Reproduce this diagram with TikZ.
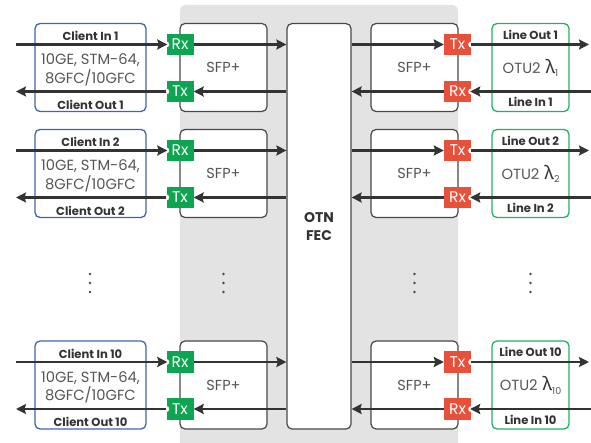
\documentclass[tikz,border=0pt]{standalone}
\usepackage{fontspec}
\setmainfont{Poppins}
\newfontfamily\grk{Noto Sans}
\usetikzlibrary{arrows.meta}
\definecolor{bgC}{HTML}{E3E3E3}
\definecolor{boxC}{HTML}{484848}
\definecolor{lineC}{HTML}{333333}
\definecolor{blueC}{HTML}{3F65AE}
\definecolor{gtagC}{HTML}{0DA552}
\definecolor{gboxC}{HTML}{22B062}
\definecolor{redC}{HTML}{E8503A}
\definecolor{labC}{HTML}{333333}
\definecolor{txtC}{HTML}{555555}
\tikzset{
  cbox/.style={draw=blueC, line width=1.3pt, rounded corners=5pt, minimum width=111pt, minimum height=88pt, inner sep=0pt},
  lbox/.style={draw=gboxC, line width=1.3pt, rounded corners=5pt, minimum width=77pt, minimum height=88pt, inner sep=0pt},
  sfpbox/.style={draw=boxC, line width=1.2pt, rounded corners=5pt, fill=white, minimum width=87pt, minimum height=88pt, inner sep=0pt, font=\fontsize{14.5}{16}\selectfont, text=txtC},
  tagbox/.style={minimum width=27pt, minimum height=21.5pt, inner sep=0pt, text=white, font=\fontsize{15.5}{16}\selectfont},
  gtag/.style={tagbox, fill=gtagC},
  rtag/.style={tagbox, fill=redC},
  lab/.style={font=\fontsize{11.6}{14}\selectfont\bfseries, text=labC, inner sep=0pt, anchor=base},
  txt/.style={font=\fontsize{14.7}{16}\selectfont, text=txtC, inner sep=0pt, anchor=base},
  arr/.style={draw=lineC, line width=2.8pt, -{Stealth[length=10pt, width=10pt, inset=1.5pt]}},
  notch/.style={fill=white}
}
\begin{document}
\begin{tikzpicture}[x=1pt, y=-1pt]
\useasboundingbox (0,0) rectangle (591,443);
% gray background
\fill[bgC, rounded corners=6pt] (180,443) -- (180,5) -- (458,5) -- (458,443);
% OTN FEC
\node[sfpbox, minimum width=64pt, minimum height=405.5pt] (otn) at (319,226.3) {};
\node[lab, font=\fontsize{14}{16}\selectfont\bfseries] (otnA) at (319,222.3) {OTN};
\node[lab, font=\fontsize{14}{16}\selectfont\bfseries] (otnB) at (319,241) {FEC};
\foreach \r/\cy/\n in {a/67.5/1, b/173.5/2, c/385/10} {
  % boxes
  \node[cbox] (cl\r) at (90.5,\cy) {};
  \node[sfpbox] (ls\r) at (223.5,\cy) {SFP+};
  \node[sfpbox] (rs\r) at (414.5,\cy) {SFP+};
  \node[lbox] (ln\r) at (530.5,\cy) {};
  % client texts
  \node[lab] (ci\r) at (90.5,{\cy-26.8}) {Client In \n};
  \node[txt] (ct\r) at (90.5,{\cy-2.5}) {10GE, STM-64,};
  \node[txt] (cu\r) at (90.5,{\cy+15.8}) {8GFC/10GFC};
  \node[lab] (co\r) at (90.5,{\cy+41.8}) {Client Out \n};
  % line texts
  \node[lab] (lo\r) at (530.5,{\cy-28.2}) {Line Out \n};
  \node[txt] (lt\r) at (530.5,{\cy+5.8}) {OTU2\hspace{5pt}{\grk\fontsize{18.5}{20}\selectfont\bfseries\color{labC}λ}\raisebox{-3.5pt}{\fontsize{9.5}{10}\selectfont\n}};
  \node[lab] (li\r) at (530.5,{\cy+39.2}) {Line In \n};
  % tags
  \node[gtag] (rx\r) at (180,{\cy-23}) {Rx};
  \node[gtag] (tx\r) at (180,{\cy+24}) {Tx};
  \node[rtag] (rt\r) at (457.5,{\cy-23}) {Tx};
  \node[rtag] (rr\r) at (457.5,{\cy+24}) {Rx};
  \fill[notch] (rx\r.west) circle (3pt);
  \fill[notch] (tx\r.west) circle (3pt);
  \fill[notch] (rt\r.east) circle (3pt);
  \fill[notch] (rr\r.east) circle (3pt);
  % free ends
  \coordinate (inL\r) at (16,{\cy-23});
  \coordinate (outL\r) at (16,{\cy+24});
  \coordinate (outR\r) at (589,{\cy-23});
  \coordinate (inR\r) at (592,{\cy+24});
  % connectors
  \draw[arr] (inL\r) -- ([xshift=1pt]rx\r.west);
  \draw[arr] (rx\r.east) -- (rx\r.east -| otn.west);
  \draw[arr] (tx\r.east -| otn.west) -- (tx\r.east);
  \draw[arr] (tx\r.west) -- (outL\r);
  \draw[arr] (rt\r.west -| otn.east) -- (rt\r.west);
  \draw[arr] (rt\r.east) -- (outR\r);
  \draw[arr] (inR\r) -- ([xshift=-1pt]rr\r.east);
  \draw[arr] (rr\r.west) -- (rr\r.west -| otn.east);
}
% vertical ellipses
\foreach \x in {90,223.5,414.5,530.5} {
  \foreach \y in {274,283,292} {
    \fill[boxC] (\x,\y) circle (1.3pt);
  }
}
\end{tikzpicture}
\end{document}
